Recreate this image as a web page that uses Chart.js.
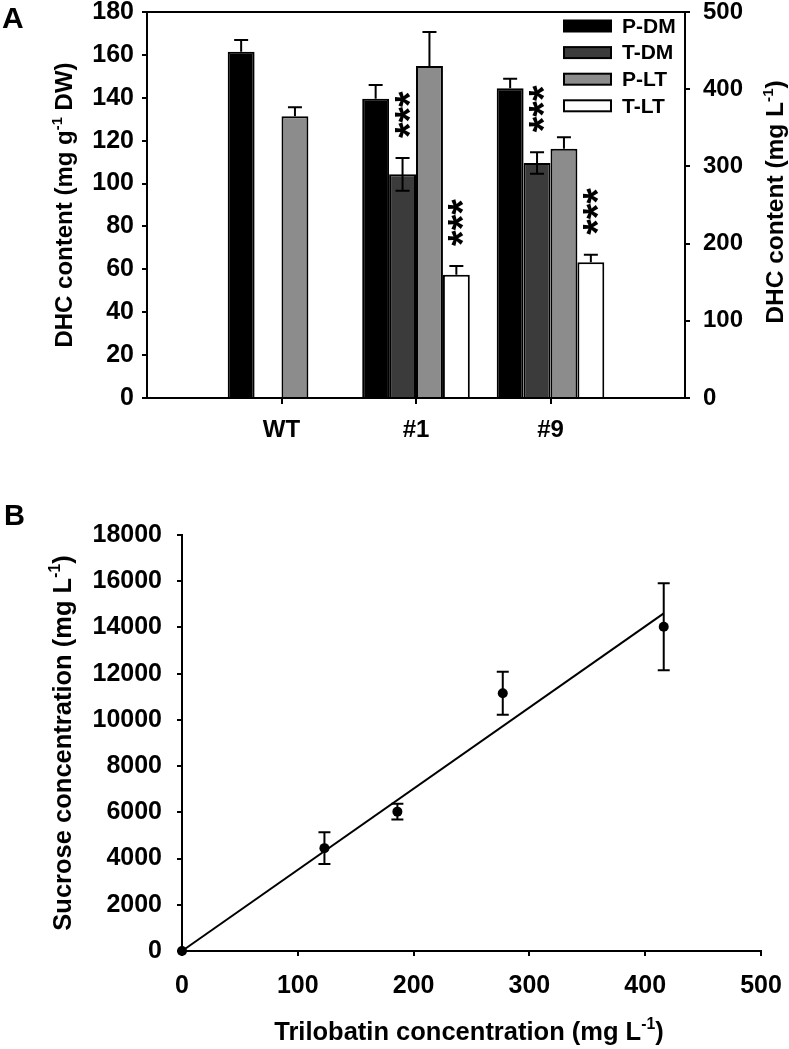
<!DOCTYPE html>
<html><head><meta charset="utf-8">
<script src="https://cdn.jsdelivr.net/npm/chart.js@4.4.1/dist/chart.umd.min.js"></script>
<style>
html,body{margin:0;padding:0;background:#fff;}
#wrapA{position:absolute;left:0;top:0;width:789px;height:470px;}
#wrapB{position:absolute;left:0;top:470px;width:789px;height:579px;}
</style></head><body>
<div id="wrapA"><canvas id="cA"></canvas></div>
<div id="wrapB"><canvas id="cB"></canvas></div>
<script>
// ---------- Panel A data ----------
const categories = ['', 'WT', '#1', '#9', ''];
const pdm    = [null, 161.5, 139.6, 144.4, null];
const pdmErr = [null, 5.5, 6.4, 4.5, null];
const tdm    = [null, null, 104.3, 109.6, null];
const tdmErr = [null, null, 7.6, 5.0, null];
const plt    = [null, 365, 430, 323, null];
const pltErr = [null, 11.6, 44, 14.6, null];
const tlt    = [null, null, 159.5, 176, null];
const tltErr = [null, null, 11.6, 9.4, null];
const tdmSig = ['', '', '***', '***', ''];
const tltSig = ['', '', '***', '***', ''];
const seriesNames = ['P-DM', 'T-DM', 'P-LT', 'T-LT'];

// ---------- Panel B data ----------
const trilobatin = [0, 123, 186, 277, 416];
const sucrose    = [0, 4450, 6030, 11150, 14030];
const sucroseErr = [0, 690, 345, 930, 1880];
const fitX = [0, 416];
const fitY = [0, 14611];

const FAM = "'Liberation Sans', Arial, Helvetica, sans-serif";
Chart.defaults.font.family = FAM;
Chart.defaults.font.weight = 'bold';
Chart.defaults.color = '#000';

function drawRich(ctx, parts, cx, cy, rot, size) {
  ctx.save();
  ctx.translate(cx, cy);
  ctx.rotate(rot);
  ctx.fillStyle = '#000';
  ctx.textBaseline = 'alphabetic';
  ctx.textAlign = 'left';
  let total = 0;
  const ws = parts.map(p => {
    ctx.font = 'bold ' + (p[1] ? size * 0.62 : size) + 'px ' + FAM;
    const w = ctx.measureText(p[0]).width;
    total += w;
    return w;
  });
  let x = -total / 2;
  parts.forEach((p, i) => {
    ctx.font = 'bold ' + (p[1] ? size * 0.62 : size) + 'px ' + FAM;
    ctx.fillText(p[0], x, p[1] ? -size * 0.42 : 0);
    x += ws[i];
  });
  ctx.restore();
}

const noPad = s => { s.paddingTop = 0; s.paddingBottom = 0; s.paddingLeft = 0; s.paddingRight = 0; };

const axisCommon = (extra) => Object.assign({
  grid: {display: true, drawOnChartArea: false, drawTicks: true, tickLength: 5, lineWidth: 2, color: '#000'},
  border: {display: true, color: '#000', width: 2}
}, extra);

// ---------- Panel A ----------
const panelAPlugin = {
  id: 'panelA',
  afterDatasetsDraw(chart) {
    const ctx = chart.ctx, ca = chart.chartArea;
    ctx.save();
    ctx.strokeStyle = '#000';
    ctx.lineWidth = 2;
    ctx.beginPath();
    ctx.moveTo(ca.left - 1, ca.top);
    ctx.lineTo(ca.right + 1, ca.top);
    ctx.stroke();
    chart.data.datasets.forEach((ds, di) => {
      const meta = chart.getDatasetMeta(di);
      const ys = chart.scales[ds.yAxisID];
      meta.data.forEach((bar, i) => {
        const v = ds.data[i], e = ds.errs[i];
        if (v == null || e == null) return;
        const x = bar.x;
        const yT = ys.getPixelForValue(v + e);
        const yV = ys.getPixelForValue(v);
        const yB = ds.errBoth ? ys.getPixelForValue(v - e) : yV;
        ctx.strokeStyle = '#000';
        ctx.lineWidth = 2;
        ctx.beginPath();
        ctx.moveTo(x, yB); ctx.lineTo(x, yT);
        ctx.moveTo(x - 7, yT); ctx.lineTo(x + 7, yT);
        if (ds.errBoth) { ctx.moveTo(x - 7, yB); ctx.lineTo(x + 7, yB); }
        ctx.stroke();
        const s = ds.sig ? ds.sig[i] : '';
        if (s) {
          ctx.save();
          ctx.font = 'bold 40px ' + FAM;
          ctx.fillStyle = '#000';
          ctx.textAlign = 'left';
          ctx.textBaseline = 'alphabetic';
          const m = ctx.measureText(s);
          const c = (m.actualBoundingBoxAscent - m.actualBoundingBoxDescent) / 2;
          ctx.translate(x + c, yT - 20);
          ctx.rotate(-Math.PI / 2);
          ctx.fillText(s, m.actualBoundingBoxLeft, 0);
          ctx.restore();
        }
      });
    });
    ctx.restore();
  },
  afterDraw(chart) {
    const ctx = chart.ctx;
    ctx.save();
    chart.data.datasets.forEach((ds, i) => {
      const cy = 26 + 26.6 * i;
      ctx.fillStyle = ds.backgroundColor;
      ctx.fillRect(564, cy - 5.5, 47, 11);
      ctx.strokeStyle = '#000';
      ctx.lineWidth = 2;
      ctx.strokeRect(564, cy - 5.5, 47, 11);
      ctx.fillStyle = '#000';
      ctx.font = 'bold 21px ' + FAM;
      ctx.textAlign = 'left';
      ctx.textBaseline = 'middle';
      ctx.fillText(ds.label, 622, cy + 1);
    });
    ctx.font = 'bold 30px ' + FAM;
    ctx.textAlign = 'left';
    ctx.textBaseline = 'alphabetic';
    ctx.fillText('A', 2, 28);
    ctx.restore();
    drawRich(ctx, [['DHC content (mg g', false], ['-1', true], [' DW)', false]], 72, 205, -Math.PI / 2, 24);
    drawRich(ctx, [['DHC content (mg L', false], ['-1', true], [')', false]], 783, 202, -Math.PI / 2, 24.5);
  }
};

new Chart(document.getElementById('cA'), {
  type: 'bar',
  data: {
    labels: categories,
    datasets: [
      {label: seriesNames[0], data: pdm, errs: pdmErr, yAxisID: 'y', backgroundColor: '#000000', borderColor: '#000', borderWidth: 2},
      {label: seriesNames[1], data: tdm, errs: tdmErr, errBoth: true, sig: tdmSig, yAxisID: 'y', backgroundColor: '#3b3b3b', borderColor: '#000', borderWidth: 2},
      {label: seriesNames[2], data: plt, errs: pltErr, yAxisID: 'y1', backgroundColor: '#8c8c8c', borderColor: '#000', borderWidth: 2},
      {label: seriesNames[3], data: tlt, errs: tltErr, sig: tltSig, yAxisID: 'y1', backgroundColor: '#ffffff', borderColor: '#000', borderWidth: 2}
    ]
  },
  options: {
    responsive: true, maintainAspectRatio: false, animation: false, events: [],
    datasets: {bar: {categoryPercentage: 0.8, barPercentage: 1.0}},
    layout: {padding: {top: 12, left: 0, right: 0, bottom: 0}},
    plugins: {legend: {display: false}, tooltip: {enabled: false}},
    scales: {
      x: {
        offset: false,
        grid: {display: true, drawOnChartArea: false, drawTicks: true, tickLength: 6, lineWidth: 2, offset: false,
          color: c => (c.index === 0 || c.index === 4) ? 'rgba(0,0,0,0)' : '#000'},
        border: {display: true, color: '#000', width: 2},
        ticks: {font: {size: 24, weight: 'bold'}, color: '#000', padding: 12, maxRotation: 0, autoSkip: false},
        afterFit: s => { noPad(s); s.height = 72; }
      },
      y: axisCommon({
        position: 'left', min: 0, max: 180,
        ticks: {stepSize: 20, font: {size: 25, weight: 'bold'}, color: '#000', padding: 8, callback: v => String(v)},
        afterFit: s => { noPad(s); s.width = 147; }
      }),
      y1: axisCommon({
        position: 'right', min: 0, max: 500,
        ticks: {stepSize: 100, font: {size: 24, weight: 'bold'}, color: '#000', padding: 13, callback: v => String(v)},
        afterFit: s => { noPad(s); s.width = 104; }
      })
    }
  },
  plugins: [panelAPlugin]
});

// ---------- Panel B ----------
const panelBPlugin = {
  id: 'panelB',
  afterDatasetsDraw(chart) {
    const ctx = chart.ctx;
    const xs = chart.scales.x, ys = chart.scales.y;
    ctx.save();
    ctx.strokeStyle = '#000';
    ctx.lineWidth = 2;
    ctx.beginPath();
    trilobatin.forEach((xv, i) => {
      const e = sucroseErr[i];
      if (!e) return;
      const x = xs.getPixelForValue(xv);
      const yT = ys.getPixelForValue(sucrose[i] + e);
      const yB = ys.getPixelForValue(sucrose[i] - e);
      ctx.moveTo(x, yB); ctx.lineTo(x, yT);
      ctx.moveTo(x - 6, yT); ctx.lineTo(x + 6, yT);
      ctx.moveTo(x - 6, yB); ctx.lineTo(x + 6, yB);
    });
    ctx.stroke();
    ctx.restore();
  },
  afterDraw(chart) {
    const ctx = chart.ctx;
    ctx.save();
    ctx.fillStyle = '#000';
    ctx.font = 'bold 29px ' + FAM;
    ctx.textAlign = 'left';
    ctx.textBaseline = 'alphabetic';
    ctx.fillText('B', 4, 55);
    ctx.restore();
    drawRich(ctx, [['Sucrose concentration (mg L', false], ['-1', true], [')', false]], 71, 273, -Math.PI / 2, 25.5);
    drawRich(ctx, [['Trilobatin concentration (mg L', false], ['-1', true], [')', false]], 469, 570, 0, 25.5);
  }
};

new Chart(document.getElementById('cB'), {
  type: 'scatter',
  data: {
    datasets: [
      {label: 'fit', data: fitX.map((x, i) => ({x: x, y: fitY[i]})), showLine: true, borderColor: '#000', borderWidth: 2, pointRadius: 0, clip: false},
      {label: 'Sucrose', data: trilobatin.map((x, i) => ({x: x, y: sucrose[i]})), pointRadius: 5, backgroundColor: '#000', borderColor: '#000', borderWidth: 0, clip: false}
    ]
  },
  options: {
    responsive: true, maintainAspectRatio: false, animation: false, events: [],
    layout: {padding: {top: 65, left: 0, right: 28, bottom: 0}},
    plugins: {legend: {display: false}, tooltip: {enabled: false}},
    scales: {
      x: axisCommon({
        type: 'linear', min: 0, max: 500,
        ticks: {stepSize: 100, font: {size: 25, weight: 'bold'}, color: '#000', padding: 15, maxRotation: 0, callback: v => String(v)},
        afterFit: s => { noPad(s); s.height = 98; }
      }),
      y: axisCommon({
        type: 'linear', min: 0, max: 18000,
        ticks: {stepSize: 2000, font: {size: 25, weight: 'bold'}, color: '#000', padding: 15, callback: v => String(v)},
        afterFit: s => { noPad(s); s.width = 182; }
      })
    }
  },
  plugins: [panelBPlugin]
});
</script>
</body></html>
